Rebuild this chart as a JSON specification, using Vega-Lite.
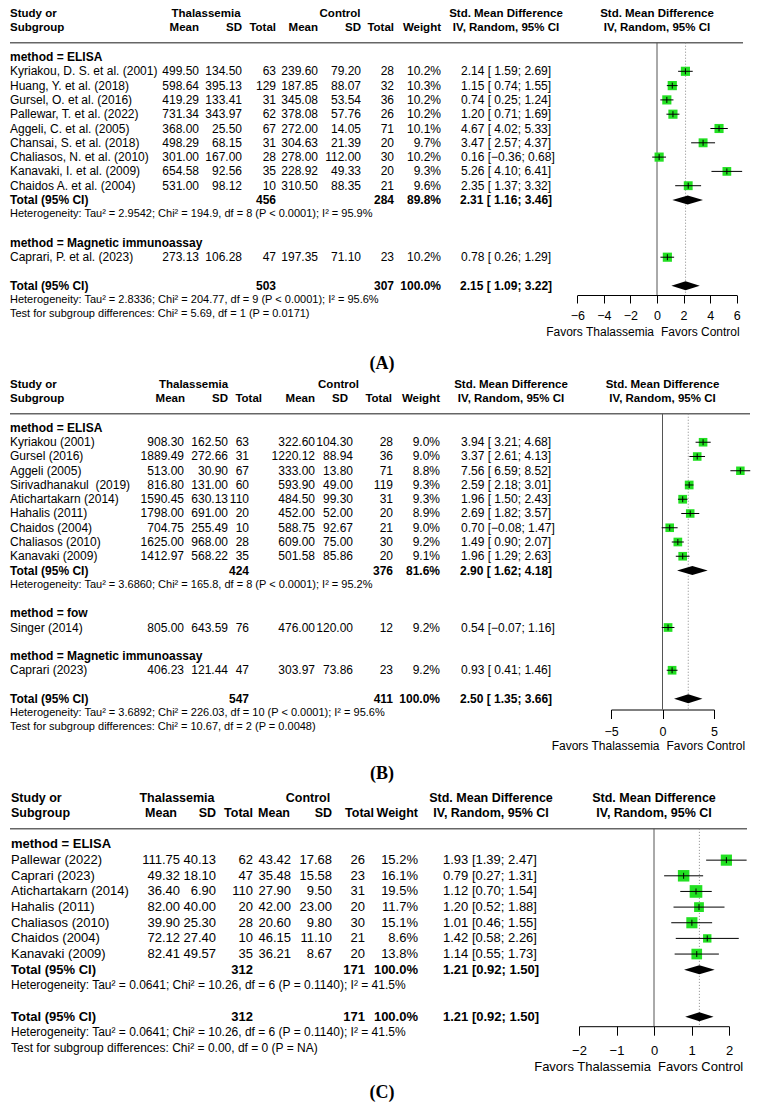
{
"$schema": "https://vega.github.io/schema/vega-lite/v6.json",
"padding": 0,
"bounds": "flush",
"spacing": 80,
"config": {
 "view": {"stroke": null},
 "text": {"font": "Liberation Sans", "baseline": "middle", "color": "black", "fontSize": 12},
 "axis": {"grid": false}
},
"datasets": {
 "one": [{"k": 1}],
 "aS": [
  {"row":1,"study":"Kyriakou, D. S. et al. (2001)","tm":499.50,"tsd":134.50,"tn":63,"cm":239.60,"csd":79.20,"cn":28,"w":0.102,"est":2.14,"lo":1.59,"hi":2.69,"ci":"2.14 [ 1.59; 2.69]"},
  {"row":2,"study":"Huang, Y. et al. (2018)","tm":598.64,"tsd":395.13,"tn":129,"cm":187.85,"csd":88.07,"cn":32,"w":0.103,"est":1.15,"lo":0.74,"hi":1.55,"ci":"1.15 [ 0.74; 1.55]"},
  {"row":3,"study":"Gursel, O. et al. (2016)","tm":419.29,"tsd":133.41,"tn":31,"cm":345.08,"csd":53.54,"cn":36,"w":0.102,"est":0.74,"lo":0.25,"hi":1.24,"ci":"0.74 [ 0.25; 1.24]"},
  {"row":4,"study":"Pallewar, T. et al. (2022)","tm":731.34,"tsd":343.97,"tn":62,"cm":378.08,"csd":57.76,"cn":26,"w":0.102,"est":1.20,"lo":0.71,"hi":1.69,"ci":"1.20 [ 0.71; 1.69]"},
  {"row":5,"study":"Aggeli, C. et al. (2005)","tm":368.00,"tsd":25.50,"tn":67,"cm":272.00,"csd":14.05,"cn":71,"w":0.101,"est":4.67,"lo":4.02,"hi":5.33,"ci":"4.67 [ 4.02; 5.33]"},
  {"row":6,"study":"Chansai, S. et al. (2018)","tm":498.29,"tsd":68.15,"tn":31,"cm":304.63,"csd":21.39,"cn":20,"w":0.097,"est":3.47,"lo":2.57,"hi":4.37,"ci":"3.47 [ 2.57; 4.37]"},
  {"row":7,"study":"Chaliasos, N. et al. (2010)","tm":301.00,"tsd":167.00,"tn":28,"cm":278.00,"csd":112.00,"cn":30,"w":0.102,"est":0.16,"lo":-0.36,"hi":0.68,"ci":"0.16 [−0.36; 0.68]"},
  {"row":8,"study":"Kanavaki, I. et al. (2009)","tm":654.58,"tsd":92.56,"tn":35,"cm":228.92,"csd":49.33,"cn":20,"w":0.093,"est":5.26,"lo":4.10,"hi":6.41,"ci":"5.26 [ 4.10; 6.41]"},
  {"row":9,"study":"Chaidos A. et al. (2004)","tm":531.00,"tsd":98.12,"tn":10,"cm":310.50,"csd":88.35,"cn":21,"w":0.096,"est":2.35,"lo":1.37,"hi":3.32,"ci":"2.35 [ 1.37; 3.32]"},
  {"row":14,"study":"Caprari, P. et al. (2023)","tm":273.13,"tsd":106.28,"tn":47,"cm":197.35,"csd":71.10,"cn":23,"w":0.102,"est":0.78,"lo":0.26,"hi":1.29,"ci":"0.78 [ 0.26; 1.29]"}
 ],
 "aT": [
  {"row":10,"kind":"subtotal","label":"Total (95% CI)","tn":456,"cn":284,"w":0.898,"est":2.31,"lo":1.16,"hi":3.46,"ci":"2.31 [ 1.16; 3.46]"},
  {"row":16,"kind":"overall","label":"Total (95% CI)","tn":503,"cn":307,"w":1,"est":2.15,"lo":1.09,"hi":3.22,"ci":"2.15 [ 1.09; 3.22]"}
 ],
 "aL": [
  {"row":0,"kind":"group","text":"method = ELISA"},
  {"row":11,"kind":"het","text":"Heterogeneity: Tau² = 2.9542; Chi² = 194.9, df = 8 (P < 0.0001); I² = 95.9%"},
  {"row":13,"kind":"group","text":"method = Magnetic immunoassay"},
  {"row":17,"kind":"het","text":"Heterogeneity: Tau² = 2.8336; Chi² = 204.77, df = 9 (P < 0.0001); I² = 95.6%"},
  {"row":18,"kind":"het","text":"Test for subgroup differences: Chi² = 5.69, df = 1 (P = 0.0171)"}
 ],
 "bS": [
  {"row":1,"study":"Kyriakou (2001)","tm":908.30,"tsd":162.50,"tn":63,"cm":322.60,"csd":104.30,"cn":28,"w":0.090,"est":3.94,"lo":3.21,"hi":4.68,"ci":"3.94 [ 3.21; 4.68]"},
  {"row":2,"study":"Gursel (2016)","tm":1889.49,"tsd":272.66,"tn":31,"cm":1220.12,"csd":88.94,"cn":36,"w":0.090,"est":3.37,"lo":2.61,"hi":4.13,"ci":"3.37 [ 2.61; 4.13]"},
  {"row":3,"study":"Aggeli (2005)","tm":513.00,"tsd":30.90,"tn":67,"cm":333.00,"csd":13.80,"cn":71,"w":0.088,"est":7.56,"lo":6.59,"hi":8.52,"ci":"7.56 [ 6.59; 8.52]"},
  {"row":4,"study":"Sirivadhanakul\u00a0 (2019)","tm":816.80,"tsd":131.00,"tn":60,"cm":593.90,"csd":49.00,"cn":119,"w":0.093,"est":2.59,"lo":2.18,"hi":3.01,"ci":"2.59 [ 2.18; 3.01]"},
  {"row":5,"study":"Atichartakarn (2014)","tm":1590.45,"tsd":630.13,"tn":110,"cm":484.50,"csd":99.30,"cn":31,"w":0.093,"est":1.96,"lo":1.50,"hi":2.43,"ci":"1.96 [ 1.50; 2.43]"},
  {"row":6,"study":"Hahalis (2011)","tm":1798.00,"tsd":691.00,"tn":20,"cm":452.00,"csd":52.00,"cn":20,"w":0.089,"est":2.69,"lo":1.82,"hi":3.57,"ci":"2.69 [ 1.82; 3.57]"},
  {"row":7,"study":"Chaidos (2004)","tm":704.75,"tsd":255.49,"tn":10,"cm":588.75,"csd":92.67,"cn":21,"w":0.090,"est":0.70,"lo":-0.08,"hi":1.47,"ci":"0.70 [−0.08; 1.47]"},
  {"row":8,"study":"Chaliasos (2010)","tm":1625.00,"tsd":968.00,"tn":28,"cm":609.00,"csd":75.00,"cn":30,"w":0.092,"est":1.49,"lo":0.90,"hi":2.07,"ci":"1.49 [ 0.90; 2.07]"},
  {"row":9,"study":"Kanavaki (2009)","tm":1412.97,"tsd":568.22,"tn":35,"cm":501.58,"csd":85.86,"cn":20,"w":0.091,"est":1.96,"lo":1.29,"hi":2.63,"ci":"1.96 [ 1.29; 2.63]"},
  {"row":14,"study":"Singer (2014)","tm":805.00,"tsd":643.59,"tn":76,"cm":476.00,"csd":120.00,"cn":12,"w":0.092,"est":0.54,"lo":-0.07,"hi":1.16,"ci":"0.54 [−0.07; 1.16]"},
  {"row":17,"study":"Caprari (2023)","tm":406.23,"tsd":121.44,"tn":47,"cm":303.97,"csd":73.86,"cn":23,"w":0.092,"est":0.93,"lo":0.41,"hi":1.46,"ci":"0.93 [ 0.41; 1.46]"}
 ],
 "bT": [
  {"row":10,"kind":"subtotal","label":"Total (95% CI)","tn":424,"cn":376,"w":0.816,"est":2.90,"lo":1.62,"hi":4.18,"ci":"2.90 [ 1.62; 4.18]"},
  {"row":19,"kind":"overall","label":"Total (95% CI)","tn":547,"cn":411,"w":1,"est":2.50,"lo":1.35,"hi":3.66,"ci":"2.50 [ 1.35; 3.66]"}
 ],
 "bL": [
  {"row":0,"kind":"group","text":"method = ELISA"},
  {"row":11,"kind":"het","text":"Heterogeneity: Tau² = 3.6860; Chi² = 165.8, df = 8 (P < 0.0001); I² = 95.2%"},
  {"row":13,"kind":"group","text":"method = fow"},
  {"row":16,"kind":"group","text":"method = Magnetic immunoassay"},
  {"row":20,"kind":"het","text":"Heterogeneity: Tau² = 3.6892; Chi² = 226.03, df = 10 (P < 0.0001); I² = 95.6%"},
  {"row":21,"kind":"het","text":"Test for subgroup differences: Chi² = 10.67, df = 2 (P = 0.0048)"}
 ],
 "cS": [
  {"row":1,"study":"Pallewar (2022)","tm":111.75,"tsd":40.13,"tn":62,"cm":43.42,"csd":17.68,"cn":26,"w":0.152,"est":1.93,"lo":1.39,"hi":2.47,"ci":"1.93 [1.39; 2.47]"},
  {"row":2,"study":"Caprari (2023)","tm":49.32,"tsd":18.10,"tn":47,"cm":35.48,"csd":15.58,"cn":23,"w":0.161,"est":0.79,"lo":0.27,"hi":1.31,"ci":"0.79 [0.27; 1.31]"},
  {"row":3,"study":"Atichartakarn (2014)","tm":36.40,"tsd":6.90,"tn":110,"cm":27.90,"csd":9.50,"cn":31,"w":0.195,"est":1.12,"lo":0.70,"hi":1.54,"ci":"1.12 [0.70; 1.54]"},
  {"row":4,"study":"Hahalis (2011)","tm":82.00,"tsd":40.00,"tn":20,"cm":42.00,"csd":23.00,"cn":20,"w":0.117,"est":1.20,"lo":0.52,"hi":1.88,"ci":"1.20 [0.52; 1.88]"},
  {"row":5,"study":"Chaliasos (2010)","tm":39.90,"tsd":25.30,"tn":28,"cm":20.60,"csd":9.80,"cn":30,"w":0.151,"est":1.01,"lo":0.46,"hi":1.55,"ci":"1.01 [0.46; 1.55]"},
  {"row":6,"study":"Chaidos (2004)","tm":72.12,"tsd":27.40,"tn":10,"cm":46.15,"csd":11.10,"cn":21,"w":0.086,"est":1.42,"lo":0.58,"hi":2.26,"ci":"1.42 [0.58; 2.26]"},
  {"row":7,"study":"Kanavaki (2009)","tm":82.41,"tsd":49.57,"tn":35,"cm":36.21,"csd":8.67,"cn":20,"w":0.138,"est":1.14,"lo":0.55,"hi":1.73,"ci":"1.14 [0.55; 1.73]"}
 ],
 "cT": [
  {"row":8,"kind":"subtotal","label":"Total (95% CI)","tn":312,"cn":171,"w":1,"est":1.21,"lo":0.92,"hi":1.50,"ci":"1.21 [0.92; 1.50]"},
  {"row":11,"kind":"overall","label":"Total (95% CI)","tn":312,"cn":171,"w":1,"est":1.21,"lo":0.92,"hi":1.50,"ci":"1.21 [0.92; 1.50]"}
 ],
 "cL": [
  {"row":0,"kind":"group","text":"method = ELISA"},
  {"row":9,"kind":"het","text":"Heterogeneity: Tau² = 0.0641; Chi² = 10.26, df = 6 (P = 0.1140); I² = 41.5%"},
  {"row":12,"kind":"het","text":"Heterogeneity: Tau² = 0.0641; Chi² = 10.26, df = 6 (P = 0.1140); I² = 41.5%"},
  {"row":13,"kind":"het","text":"Test for subgroup differences: Chi² = 0.00, df = 0 (P = NA)"}
 ]
},
"vconcat": [
{
 "width": 760, "height": 295,
 "resolve": {"scale": {"x": "independent"}},
 "layer": [
  {"data":{"name":"one"},"mark":{"type":"rule","color":"#666","strokeWidth":1.5},"encoding":{"x":{"datum":10,"type":"quantitative","scale":{"domain":[0,760],"nice":false,"zero":false},"axis":null},"x2":{"datum":743},"y":{"datum":-1,"type":"quantitative","scale":{"domain":[-3.986,16.643],"reverse":true,"nice":false,"zero":false},"axis":null}}},
  {"data":{"name":"one"},"mark":{"type":"text","align":"left","fontWeight":"bold","fontSize":11.5,"lineHeight":14.3},"encoding":{"x":{"datum":10,"type":"quantitative","scale":{"domain":[0,760],"nice":false,"zero":false},"axis":null},"y":{"datum":-3,"type":"quantitative","scale":{"domain":[-3.986,16.643],"reverse":true,"nice":false,"zero":false},"axis":null},"text":{"value":["Study or","Subgroup"]}}},
  {"data":{"name":"one"},"mark":{"type":"text","align":"center","fontWeight":"bold","fontSize":11.5},"encoding":{"x":{"datum":206,"type":"quantitative","scale":{"domain":[0,760],"nice":false,"zero":false},"axis":null},"y":{"datum":-3,"type":"quantitative","scale":{"domain":[-3.986,16.643],"reverse":true,"nice":false,"zero":false},"axis":null},"text":{"value":"Thalassemia"}}},
  {"data":{"name":"one"},"mark":{"type":"text","align":"center","fontWeight":"bold","fontSize":11.5},"encoding":{"x":{"datum":340,"type":"quantitative","scale":{"domain":[0,760],"nice":false,"zero":false},"axis":null},"y":{"datum":-3,"type":"quantitative","scale":{"domain":[-3.986,16.643],"reverse":true,"nice":false,"zero":false},"axis":null},"text":{"value":"Control"}}},
  {"data":{"name":"one"},"mark":{"type":"text","align":"right","fontWeight":"bold","fontSize":11.5},"encoding":{"x":{"datum":199,"type":"quantitative","scale":{"domain":[0,760],"nice":false,"zero":false},"axis":null},"y":{"datum":-2,"type":"quantitative","scale":{"domain":[-3.986,16.643],"reverse":true,"nice":false,"zero":false},"axis":null},"text":{"value":"Mean"}}},
  {"data":{"name":"one"},"mark":{"type":"text","align":"right","fontWeight":"bold","fontSize":11.5},"encoding":{"x":{"datum":242,"type":"quantitative","scale":{"domain":[0,760],"nice":false,"zero":false},"axis":null},"y":{"datum":-2,"type":"quantitative","scale":{"domain":[-3.986,16.643],"reverse":true,"nice":false,"zero":false},"axis":null},"text":{"value":"SD"}}},
  {"data":{"name":"one"},"mark":{"type":"text","align":"right","fontWeight":"bold","fontSize":11.5},"encoding":{"x":{"datum":276,"type":"quantitative","scale":{"domain":[0,760],"nice":false,"zero":false},"axis":null},"y":{"datum":-2,"type":"quantitative","scale":{"domain":[-3.986,16.643],"reverse":true,"nice":false,"zero":false},"axis":null},"text":{"value":"Total"}}},
  {"data":{"name":"one"},"mark":{"type":"text","align":"right","fontWeight":"bold","fontSize":11.5},"encoding":{"x":{"datum":318,"type":"quantitative","scale":{"domain":[0,760],"nice":false,"zero":false},"axis":null},"y":{"datum":-2,"type":"quantitative","scale":{"domain":[-3.986,16.643],"reverse":true,"nice":false,"zero":false},"axis":null},"text":{"value":"Mean"}}},
  {"data":{"name":"one"},"mark":{"type":"text","align":"right","fontWeight":"bold","fontSize":11.5},"encoding":{"x":{"datum":361,"type":"quantitative","scale":{"domain":[0,760],"nice":false,"zero":false},"axis":null},"y":{"datum":-2,"type":"quantitative","scale":{"domain":[-3.986,16.643],"reverse":true,"nice":false,"zero":false},"axis":null},"text":{"value":"SD"}}},
  {"data":{"name":"one"},"mark":{"type":"text","align":"right","fontWeight":"bold","fontSize":11.5},"encoding":{"x":{"datum":394,"type":"quantitative","scale":{"domain":[0,760],"nice":false,"zero":false},"axis":null},"y":{"datum":-2,"type":"quantitative","scale":{"domain":[-3.986,16.643],"reverse":true,"nice":false,"zero":false},"axis":null},"text":{"value":"Total"}}},
  {"data":{"name":"one"},"mark":{"type":"text","align":"right","fontWeight":"bold","fontSize":11.5},"encoding":{"x":{"datum":441,"type":"quantitative","scale":{"domain":[0,760],"nice":false,"zero":false},"axis":null},"y":{"datum":-2,"type":"quantitative","scale":{"domain":[-3.986,16.643],"reverse":true,"nice":false,"zero":false},"axis":null},"text":{"value":"Weight"}}},
  {"data":{"name":"one"},"mark":{"type":"text","align":"center","fontWeight":"bold","fontSize":11.5,"lineHeight":14.3},"encoding":{"x":{"datum":506,"type":"quantitative","scale":{"domain":[0,760],"nice":false,"zero":false},"axis":null},"y":{"datum":-3,"type":"quantitative","scale":{"domain":[-3.986,16.643],"reverse":true,"nice":false,"zero":false},"axis":null},"text":{"value":["Std. Mean Difference","IV, Random, 95% CI"]}}},
  {"data":{"name":"aS"},"mark":{"type":"text","align":"left"},"encoding":{"x":{"datum":10,"type":"quantitative","scale":{"domain":[0,760],"nice":false,"zero":false},"axis":null},"y":{"field":"row","type":"quantitative","scale":{"domain":[-3.986,16.643],"reverse":true,"nice":false,"zero":false},"axis":null},"text":{"field":"study","type":"nominal"}}},
  {"data":{"name":"aL"},"transform":[{"filter":"datum.kind == 'group'"}],"mark":{"type":"text","align":"left","fontWeight":"bold"},"encoding":{"x":{"datum":10,"type":"quantitative","scale":{"domain":[0,760],"nice":false,"zero":false},"axis":null},"y":{"field":"row","type":"quantitative","scale":{"domain":[-3.986,16.643],"reverse":true,"nice":false,"zero":false},"axis":null},"text":{"field":"text","type":"nominal"}}},
  {"data":{"name":"aL"},"transform":[{"filter":"datum.kind == 'het'"}],"mark":{"type":"text","align":"left","fontSize":11},"encoding":{"x":{"datum":10,"type":"quantitative","scale":{"domain":[0,760],"nice":false,"zero":false},"axis":null},"y":{"field":"row","type":"quantitative","scale":{"domain":[-3.986,16.643],"reverse":true,"nice":false,"zero":false},"axis":null},"text":{"field":"text","type":"nominal"}}},
  {"data":{"name":"aS"},"mark":{"type":"text","align":"right"},"encoding":{"x":{"datum":199,"type":"quantitative","scale":{"domain":[0,760],"nice":false,"zero":false},"axis":null},"y":{"field":"row","type":"quantitative","scale":{"domain":[-3.986,16.643],"reverse":true,"nice":false,"zero":false},"axis":null},"text":{"field":"tm","type":"quantitative","format":".2f"}}},
  {"data":{"name":"aS"},"mark":{"type":"text","align":"right"},"encoding":{"x":{"datum":242,"type":"quantitative","scale":{"domain":[0,760],"nice":false,"zero":false},"axis":null},"y":{"field":"row","type":"quantitative","scale":{"domain":[-3.986,16.643],"reverse":true,"nice":false,"zero":false},"axis":null},"text":{"field":"tsd","type":"quantitative","format":".2f"}}},
  {"data":{"name":"aS"},"mark":{"type":"text","align":"right"},"encoding":{"x":{"datum":276,"type":"quantitative","scale":{"domain":[0,760],"nice":false,"zero":false},"axis":null},"y":{"field":"row","type":"quantitative","scale":{"domain":[-3.986,16.643],"reverse":true,"nice":false,"zero":false},"axis":null},"text":{"field":"tn","type":"quantitative","format":"d"}}},
  {"data":{"name":"aS"},"mark":{"type":"text","align":"right"},"encoding":{"x":{"datum":318,"type":"quantitative","scale":{"domain":[0,760],"nice":false,"zero":false},"axis":null},"y":{"field":"row","type":"quantitative","scale":{"domain":[-3.986,16.643],"reverse":true,"nice":false,"zero":false},"axis":null},"text":{"field":"cm","type":"quantitative","format":".2f"}}},
  {"data":{"name":"aS"},"mark":{"type":"text","align":"right"},"encoding":{"x":{"datum":361,"type":"quantitative","scale":{"domain":[0,760],"nice":false,"zero":false},"axis":null},"y":{"field":"row","type":"quantitative","scale":{"domain":[-3.986,16.643],"reverse":true,"nice":false,"zero":false},"axis":null},"text":{"field":"csd","type":"quantitative","format":".2f"}}},
  {"data":{"name":"aS"},"mark":{"type":"text","align":"right"},"encoding":{"x":{"datum":394,"type":"quantitative","scale":{"domain":[0,760],"nice":false,"zero":false},"axis":null},"y":{"field":"row","type":"quantitative","scale":{"domain":[-3.986,16.643],"reverse":true,"nice":false,"zero":false},"axis":null},"text":{"field":"cn","type":"quantitative","format":"d"}}},
  {"data":{"name":"aS"},"mark":{"type":"text","align":"right"},"encoding":{"x":{"datum":441,"type":"quantitative","scale":{"domain":[0,760],"nice":false,"zero":false},"axis":null},"y":{"field":"row","type":"quantitative","scale":{"domain":[-3.986,16.643],"reverse":true,"nice":false,"zero":false},"axis":null},"text":{"field":"w","type":"quantitative","format":".1%"}}},
  {"data":{"name":"aS"},"mark":{"type":"text","align":"left"},"encoding":{"x":{"datum":461,"type":"quantitative","scale":{"domain":[0,760],"nice":false,"zero":false},"axis":null},"y":{"field":"row","type":"quantitative","scale":{"domain":[-3.986,16.643],"reverse":true,"nice":false,"zero":false},"axis":null},"text":{"field":"ci","type":"nominal"}}},
  {"data":{"name":"aT"},"mark":{"type":"text","align":"left","fontWeight":"bold"},"encoding":{"x":{"datum":10,"type":"quantitative","scale":{"domain":[0,760],"nice":false,"zero":false},"axis":null},"y":{"field":"row","type":"quantitative","scale":{"domain":[-3.986,16.643],"reverse":true,"nice":false,"zero":false},"axis":null},"text":{"field":"label","type":"nominal"}}},
  {"data":{"name":"aT"},"mark":{"type":"text","align":"right","fontWeight":"bold"},"encoding":{"x":{"datum":276,"type":"quantitative","scale":{"domain":[0,760],"nice":false,"zero":false},"axis":null},"y":{"field":"row","type":"quantitative","scale":{"domain":[-3.986,16.643],"reverse":true,"nice":false,"zero":false},"axis":null},"text":{"field":"tn","type":"quantitative","format":"d"}}},
  {"data":{"name":"aT"},"mark":{"type":"text","align":"right","fontWeight":"bold"},"encoding":{"x":{"datum":394,"type":"quantitative","scale":{"domain":[0,760],"nice":false,"zero":false},"axis":null},"y":{"field":"row","type":"quantitative","scale":{"domain":[-3.986,16.643],"reverse":true,"nice":false,"zero":false},"axis":null},"text":{"field":"cn","type":"quantitative","format":"d"}}},
  {"data":{"name":"aT"},"mark":{"type":"text","align":"right","fontWeight":"bold"},"encoding":{"x":{"datum":441,"type":"quantitative","scale":{"domain":[0,760],"nice":false,"zero":false},"axis":null},"y":{"field":"row","type":"quantitative","scale":{"domain":[-3.986,16.643],"reverse":true,"nice":false,"zero":false},"axis":null},"text":{"field":"w","type":"quantitative","format":".1%"}}},
  {"data":{"name":"aT"},"mark":{"type":"text","align":"left","fontWeight":"bold"},"encoding":{"x":{"datum":460,"type":"quantitative","scale":{"domain":[0,760],"nice":false,"zero":false},"axis":null},"y":{"field":"row","type":"quantitative","scale":{"domain":[-3.986,16.643],"reverse":true,"nice":false,"zero":false},"axis":null},"text":{"field":"ci","type":"nominal"}}},
  {"data":{"name":"one"},"mark":{"type":"text","align":"center","font":"Liberation Serif","fontSize":18,"fontWeight":"bold"},"encoding":{"x":{"datum":382,"type":"quantitative","scale":{"domain":[0,760],"nice":false,"zero":false},"axis":null},"y":{"datum":21.5,"type":"quantitative","scale":{"domain":[-3.986,16.643],"reverse":true,"nice":false,"zero":false},"axis":null},"text":{"value":"(A)"}}},
  {"data":{"name":"one"},"mark":{"type":"rule","color":"#555","strokeWidth":1},"encoding":{"x":{"datum":0,"type":"quantitative","scale":{"domain":[-6,6],"range":[577.3,736.7],"nice":false,"zero":false},"axis":null},"y":{"datum":-1,"type":"quantitative","scale":{"domain":[-3.986,16.643],"reverse":true,"nice":false,"zero":false},"axis":null},"y2":{"datum":16.643}}},
  {"data":{"name":"aT"},"transform":[{"filter":"datum.kind == 'overall'"}],"mark":{"type":"rule","color":"#888","strokeWidth":1,"strokeDash":[1,2]},"encoding":{"x":{"field":"est","type":"quantitative","scale":{"domain":[-6,6],"range":[577.3,736.7],"nice":false,"zero":false},"axis":null},"y":{"datum":-1,"type":"quantitative","scale":{"domain":[-3.986,16.643],"reverse":true,"nice":false,"zero":false},"axis":null},"y2":{"datum":16.643}}},
  {"data":{"name":"aS"},"mark":{"type":"point","shape":"square","filled":true,"color":"#22e022","opacity":1},"encoding":{"x":{"field":"est","type":"quantitative","scale":{"domain":[-6,6],"range":[577.3,736.7],"nice":false,"zero":false},"axis":null},"y":{"field":"row","type":"quantitative","scale":{"domain":[-3.986,16.643],"reverse":true,"nice":false,"zero":false},"axis":null},"size":{"field":"w","type":"quantitative","scale":{"domain":[0,0.103],"range":[0,160],"zero":true},"legend":null}}},
  {"data":{"name":"aS"},"mark":{"type":"rule","color":"black","strokeWidth":1},"encoding":{"x":{"field":"lo","type":"quantitative","scale":{"domain":[-6,6],"range":[577.3,736.7],"nice":false,"zero":false},"axis":{"orient":"bottom","values":[-6,-4,-2,0,2,4,6],"title":null,"grid":false,"domainColor":"black","domainWidth":1,"tickColor":"black","tickWidth":1,"tickSize":8,"labelFont":"Liberation Sans","labelFontSize":12.5,"labelColor":"black","labelPadding":6,"labelFlush":false,"labelOverlap":false,"labelBound":false}},"x2":{"field":"hi"},"y":{"field":"row","type":"quantitative","scale":{"domain":[-3.986,16.643],"reverse":true,"nice":false,"zero":false},"axis":null}}},
  {"data":{"name":"aS"},"mark":{"type":"point","shape":"M0,-1L0,1","filled":false,"color":"black","strokeWidth":1,"opacity":1,"size":36},"encoding":{"x":{"field":"est","type":"quantitative","scale":{"domain":[-6,6],"range":[577.3,736.7],"nice":false,"zero":false},"axis":null},"y":{"field":"row","type":"quantitative","scale":{"domain":[-3.986,16.643],"reverse":true,"nice":false,"zero":false},"axis":null}}},
  {"data":{"name":"aT"},"mark":{"type":"point","filled":true,"color":"black","opacity":1,"size":4},"encoding":{"x":{"field":"est","type":"quantitative","scale":{"domain":[-6,6],"range":[577.3,736.7],"nice":false,"zero":false},"axis":null},"y":{"field":"row","type":"quantitative","scale":{"domain":[-3.986,16.643],"reverse":true,"nice":false,"zero":false},"axis":null},"shape":{"field":"kind","type":"nominal","scale":{"domain":["subtotal","overall"],"range":["M-15.33,0L0,-4.5L15.33,0L0,4.5Z","M-14.2,0L0,-4.5L14.2,0L0,4.5Z"]},"legend":null}}},
  {"data":{"name":"one"},"mark":{"type":"text","align":"center","fontWeight":"bold","fontSize":11.5,"lineHeight":14.3},"encoding":{"x":{"datum":0,"type":"quantitative","scale":{"domain":[-6,6],"range":[577.3,736.7],"nice":false,"zero":false},"axis":null},"y":{"datum":-3,"type":"quantitative","scale":{"domain":[-3.986,16.643],"reverse":true,"nice":false,"zero":false},"axis":null},"text":{"value":["Std. Mean Difference","IV, Random, 95% CI"]}}},
  {"data":{"name":"one"},"mark":{"type":"text","align":"right","dx":-3},"encoding":{"x":{"datum":0,"type":"quantitative","scale":{"domain":[-6,6],"range":[577.3,736.7],"nice":false,"zero":false},"axis":null},"y":{"datum":19.23,"type":"quantitative","scale":{"domain":[-3.986,16.643],"reverse":true,"nice":false,"zero":false},"axis":null},"text":{"value":"Favors Thalassemia"}}},
  {"data":{"name":"one"},"mark":{"type":"text","align":"left","dx":4},"encoding":{"x":{"datum":0,"type":"quantitative","scale":{"domain":[-6,6],"range":[577.3,736.7],"nice":false,"zero":false},"axis":null},"y":{"datum":19.23,"type":"quantitative","scale":{"domain":[-3.986,16.643],"reverse":true,"nice":false,"zero":false},"axis":null},"text":{"value":"Favors Control"}}}
 ]
},
{
 "width": 760, "height": 334.5,
 "resolve": {"scale": {"x": "independent"}},
 "layer": [
  {"data":{"name":"one"},"mark":{"type":"rule","color":"#666","strokeWidth":1.5},"encoding":{"x":{"datum":10,"type":"quantitative","scale":{"domain":[0,760],"nice":false,"zero":false},"axis":null},"x2":{"datum":750},"y":{"datum":-1,"type":"quantitative","scale":{"domain":[-3.719,19.754],"reverse":true,"nice":false,"zero":false},"axis":null}}},
  {"data":{"name":"one"},"mark":{"type":"text","align":"left","fontWeight":"bold","fontSize":11.5,"lineHeight":14.25},"encoding":{"x":{"datum":10,"type":"quantitative","scale":{"domain":[0,760],"nice":false,"zero":false},"axis":null},"y":{"datum":-3,"type":"quantitative","scale":{"domain":[-3.719,19.754],"reverse":true,"nice":false,"zero":false},"axis":null},"text":{"value":["Study or","Subgroup"]}}},
  {"data":{"name":"one"},"mark":{"type":"text","align":"center","fontWeight":"bold","fontSize":11.5},"encoding":{"x":{"datum":193.5,"type":"quantitative","scale":{"domain":[0,760],"nice":false,"zero":false},"axis":null},"y":{"datum":-3,"type":"quantitative","scale":{"domain":[-3.719,19.754],"reverse":true,"nice":false,"zero":false},"axis":null},"text":{"value":"Thalassemia"}}},
  {"data":{"name":"one"},"mark":{"type":"text","align":"center","fontWeight":"bold","fontSize":11.5},"encoding":{"x":{"datum":338.5,"type":"quantitative","scale":{"domain":[0,760],"nice":false,"zero":false},"axis":null},"y":{"datum":-3,"type":"quantitative","scale":{"domain":[-3.719,19.754],"reverse":true,"nice":false,"zero":false},"axis":null},"text":{"value":"Control"}}},
  {"data":{"name":"one"},"mark":{"type":"text","align":"right","fontWeight":"bold","fontSize":11.5},"encoding":{"x":{"datum":185,"type":"quantitative","scale":{"domain":[0,760],"nice":false,"zero":false},"axis":null},"y":{"datum":-2,"type":"quantitative","scale":{"domain":[-3.719,19.754],"reverse":true,"nice":false,"zero":false},"axis":null},"text":{"value":"Mean"}}},
  {"data":{"name":"one"},"mark":{"type":"text","align":"right","fontWeight":"bold","fontSize":11.5},"encoding":{"x":{"datum":228,"type":"quantitative","scale":{"domain":[0,760],"nice":false,"zero":false},"axis":null},"y":{"datum":-2,"type":"quantitative","scale":{"domain":[-3.719,19.754],"reverse":true,"nice":false,"zero":false},"axis":null},"text":{"value":"SD"}}},
  {"data":{"name":"one"},"mark":{"type":"text","align":"right","fontWeight":"bold","fontSize":11.5},"encoding":{"x":{"datum":262,"type":"quantitative","scale":{"domain":[0,760],"nice":false,"zero":false},"axis":null},"y":{"datum":-2,"type":"quantitative","scale":{"domain":[-3.719,19.754],"reverse":true,"nice":false,"zero":false},"axis":null},"text":{"value":"Total"}}},
  {"data":{"name":"one"},"mark":{"type":"text","align":"right","fontWeight":"bold","fontSize":11.5},"encoding":{"x":{"datum":315,"type":"quantitative","scale":{"domain":[0,760],"nice":false,"zero":false},"axis":null},"y":{"datum":-2,"type":"quantitative","scale":{"domain":[-3.719,19.754],"reverse":true,"nice":false,"zero":false},"axis":null},"text":{"value":"Mean"}}},
  {"data":{"name":"one"},"mark":{"type":"text","align":"right","fontWeight":"bold","fontSize":11.5},"encoding":{"x":{"datum":348,"type":"quantitative","scale":{"domain":[0,760],"nice":false,"zero":false},"axis":null},"y":{"datum":-2,"type":"quantitative","scale":{"domain":[-3.719,19.754],"reverse":true,"nice":false,"zero":false},"axis":null},"text":{"value":"SD"}}},
  {"data":{"name":"one"},"mark":{"type":"text","align":"right","fontWeight":"bold","fontSize":11.5},"encoding":{"x":{"datum":392,"type":"quantitative","scale":{"domain":[0,760],"nice":false,"zero":false},"axis":null},"y":{"datum":-2,"type":"quantitative","scale":{"domain":[-3.719,19.754],"reverse":true,"nice":false,"zero":false},"axis":null},"text":{"value":"Total"}}},
  {"data":{"name":"one"},"mark":{"type":"text","align":"right","fontWeight":"bold","fontSize":11.5},"encoding":{"x":{"datum":440,"type":"quantitative","scale":{"domain":[0,760],"nice":false,"zero":false},"axis":null},"y":{"datum":-2,"type":"quantitative","scale":{"domain":[-3.719,19.754],"reverse":true,"nice":false,"zero":false},"axis":null},"text":{"value":"Weight"}}},
  {"data":{"name":"one"},"mark":{"type":"text","align":"center","fontWeight":"bold","fontSize":11.5,"lineHeight":14.25},"encoding":{"x":{"datum":511,"type":"quantitative","scale":{"domain":[0,760],"nice":false,"zero":false},"axis":null},"y":{"datum":-3,"type":"quantitative","scale":{"domain":[-3.719,19.754],"reverse":true,"nice":false,"zero":false},"axis":null},"text":{"value":["Std. Mean Difference","IV, Random, 95% CI"]}}},
  {"data":{"name":"bS"},"mark":{"type":"text","align":"left"},"encoding":{"x":{"datum":10,"type":"quantitative","scale":{"domain":[0,760],"nice":false,"zero":false},"axis":null},"y":{"field":"row","type":"quantitative","scale":{"domain":[-3.719,19.754],"reverse":true,"nice":false,"zero":false},"axis":null},"text":{"field":"study","type":"nominal"}}},
  {"data":{"name":"bL"},"transform":[{"filter":"datum.kind == 'group'"}],"mark":{"type":"text","align":"left","fontWeight":"bold"},"encoding":{"x":{"datum":10,"type":"quantitative","scale":{"domain":[0,760],"nice":false,"zero":false},"axis":null},"y":{"field":"row","type":"quantitative","scale":{"domain":[-3.719,19.754],"reverse":true,"nice":false,"zero":false},"axis":null},"text":{"field":"text","type":"nominal"}}},
  {"data":{"name":"bL"},"transform":[{"filter":"datum.kind == 'het'"}],"mark":{"type":"text","align":"left","fontSize":11},"encoding":{"x":{"datum":10,"type":"quantitative","scale":{"domain":[0,760],"nice":false,"zero":false},"axis":null},"y":{"field":"row","type":"quantitative","scale":{"domain":[-3.719,19.754],"reverse":true,"nice":false,"zero":false},"axis":null},"text":{"field":"text","type":"nominal"}}},
  {"data":{"name":"bS"},"mark":{"type":"text","align":"right"},"encoding":{"x":{"datum":184,"type":"quantitative","scale":{"domain":[0,760],"nice":false,"zero":false},"axis":null},"y":{"field":"row","type":"quantitative","scale":{"domain":[-3.719,19.754],"reverse":true,"nice":false,"zero":false},"axis":null},"text":{"field":"tm","type":"quantitative","format":".2f"}}},
  {"data":{"name":"bS"},"mark":{"type":"text","align":"right"},"encoding":{"x":{"datum":228,"type":"quantitative","scale":{"domain":[0,760],"nice":false,"zero":false},"axis":null},"y":{"field":"row","type":"quantitative","scale":{"domain":[-3.719,19.754],"reverse":true,"nice":false,"zero":false},"axis":null},"text":{"field":"tsd","type":"quantitative","format":".2f"}}},
  {"data":{"name":"bS"},"mark":{"type":"text","align":"right"},"encoding":{"x":{"datum":249,"type":"quantitative","scale":{"domain":[0,760],"nice":false,"zero":false},"axis":null},"y":{"field":"row","type":"quantitative","scale":{"domain":[-3.719,19.754],"reverse":true,"nice":false,"zero":false},"axis":null},"text":{"field":"tn","type":"quantitative","format":"d"}}},
  {"data":{"name":"bS"},"mark":{"type":"text","align":"right"},"encoding":{"x":{"datum":315,"type":"quantitative","scale":{"domain":[0,760],"nice":false,"zero":false},"axis":null},"y":{"field":"row","type":"quantitative","scale":{"domain":[-3.719,19.754],"reverse":true,"nice":false,"zero":false},"axis":null},"text":{"field":"cm","type":"quantitative","format":".2f"}}},
  {"data":{"name":"bS"},"mark":{"type":"text","align":"right"},"encoding":{"x":{"datum":353,"type":"quantitative","scale":{"domain":[0,760],"nice":false,"zero":false},"axis":null},"y":{"field":"row","type":"quantitative","scale":{"domain":[-3.719,19.754],"reverse":true,"nice":false,"zero":false},"axis":null},"text":{"field":"csd","type":"quantitative","format":".2f"}}},
  {"data":{"name":"bS"},"mark":{"type":"text","align":"right"},"encoding":{"x":{"datum":393,"type":"quantitative","scale":{"domain":[0,760],"nice":false,"zero":false},"axis":null},"y":{"field":"row","type":"quantitative","scale":{"domain":[-3.719,19.754],"reverse":true,"nice":false,"zero":false},"axis":null},"text":{"field":"cn","type":"quantitative","format":"d"}}},
  {"data":{"name":"bS"},"mark":{"type":"text","align":"right"},"encoding":{"x":{"datum":440,"type":"quantitative","scale":{"domain":[0,760],"nice":false,"zero":false},"axis":null},"y":{"field":"row","type":"quantitative","scale":{"domain":[-3.719,19.754],"reverse":true,"nice":false,"zero":false},"axis":null},"text":{"field":"w","type":"quantitative","format":".1%"}}},
  {"data":{"name":"bS"},"mark":{"type":"text","align":"left"},"encoding":{"x":{"datum":461,"type":"quantitative","scale":{"domain":[0,760],"nice":false,"zero":false},"axis":null},"y":{"field":"row","type":"quantitative","scale":{"domain":[-3.719,19.754],"reverse":true,"nice":false,"zero":false},"axis":null},"text":{"field":"ci","type":"nominal"}}},
  {"data":{"name":"bT"},"mark":{"type":"text","align":"left","fontWeight":"bold"},"encoding":{"x":{"datum":10,"type":"quantitative","scale":{"domain":[0,760],"nice":false,"zero":false},"axis":null},"y":{"field":"row","type":"quantitative","scale":{"domain":[-3.719,19.754],"reverse":true,"nice":false,"zero":false},"axis":null},"text":{"field":"label","type":"nominal"}}},
  {"data":{"name":"bT"},"mark":{"type":"text","align":"right","fontWeight":"bold"},"encoding":{"x":{"datum":249,"type":"quantitative","scale":{"domain":[0,760],"nice":false,"zero":false},"axis":null},"y":{"field":"row","type":"quantitative","scale":{"domain":[-3.719,19.754],"reverse":true,"nice":false,"zero":false},"axis":null},"text":{"field":"tn","type":"quantitative","format":"d"}}},
  {"data":{"name":"bT"},"mark":{"type":"text","align":"right","fontWeight":"bold"},"encoding":{"x":{"datum":393,"type":"quantitative","scale":{"domain":[0,760],"nice":false,"zero":false},"axis":null},"y":{"field":"row","type":"quantitative","scale":{"domain":[-3.719,19.754],"reverse":true,"nice":false,"zero":false},"axis":null},"text":{"field":"cn","type":"quantitative","format":"d"}}},
  {"data":{"name":"bT"},"mark":{"type":"text","align":"right","fontWeight":"bold"},"encoding":{"x":{"datum":440,"type":"quantitative","scale":{"domain":[0,760],"nice":false,"zero":false},"axis":null},"y":{"field":"row","type":"quantitative","scale":{"domain":[-3.719,19.754],"reverse":true,"nice":false,"zero":false},"axis":null},"text":{"field":"w","type":"quantitative","format":".1%"}}},
  {"data":{"name":"bT"},"mark":{"type":"text","align":"left","fontWeight":"bold"},"encoding":{"x":{"datum":460,"type":"quantitative","scale":{"domain":[0,760],"nice":false,"zero":false},"axis":null},"y":{"field":"row","type":"quantitative","scale":{"domain":[-3.719,19.754],"reverse":true,"nice":false,"zero":false},"axis":null},"text":{"field":"ci","type":"nominal"}}},
  {"data":{"name":"one"},"mark":{"type":"text","align":"center","font":"Liberation Serif","fontSize":18,"fontWeight":"bold"},"encoding":{"x":{"datum":382,"type":"quantitative","scale":{"domain":[0,760],"nice":false,"zero":false},"axis":null},"y":{"datum":24.28,"type":"quantitative","scale":{"domain":[-3.719,19.754],"reverse":true,"nice":false,"zero":false},"axis":null},"text":{"value":"(B)"}}},
  {"data":{"name":"one"},"mark":{"type":"rule","color":"#555","strokeWidth":1},"encoding":{"x":{"datum":0,"type":"quantitative","scale":{"domain":[-5,5],"range":[611,714],"nice":false,"zero":false},"axis":null},"y":{"datum":-1,"type":"quantitative","scale":{"domain":[-3.719,19.754],"reverse":true,"nice":false,"zero":false},"axis":null},"y2":{"datum":19.754}}},
  {"data":{"name":"bT"},"transform":[{"filter":"datum.kind == 'overall'"}],"mark":{"type":"rule","color":"#888","strokeWidth":1,"strokeDash":[1,2]},"encoding":{"x":{"field":"est","type":"quantitative","scale":{"domain":[-5,5],"range":[611,714],"nice":false,"zero":false},"axis":null},"y":{"datum":-1,"type":"quantitative","scale":{"domain":[-3.719,19.754],"reverse":true,"nice":false,"zero":false},"axis":null},"y2":{"datum":19.754}}},
  {"data":{"name":"bS"},"mark":{"type":"point","shape":"square","filled":true,"color":"#22e022","opacity":1},"encoding":{"x":{"field":"est","type":"quantitative","scale":{"domain":[-5,5],"range":[611,714],"nice":false,"zero":false},"axis":null},"y":{"field":"row","type":"quantitative","scale":{"domain":[-3.719,19.754],"reverse":true,"nice":false,"zero":false},"axis":null},"size":{"field":"w","type":"quantitative","scale":{"domain":[0,0.093],"range":[0,160],"zero":true},"legend":null}}},
  {"data":{"name":"bS"},"mark":{"type":"rule","color":"black","strokeWidth":1},"encoding":{"x":{"field":"lo","type":"quantitative","scale":{"domain":[-5,5],"range":[611,714],"nice":false,"zero":false},"axis":{"orient":"bottom","values":[-5,0,5],"title":null,"grid":false,"domainColor":"black","domainWidth":1,"tickColor":"black","tickWidth":1,"tickSize":9,"labelFont":"Liberation Sans","labelFontSize":12.5,"labelColor":"black","labelPadding":7,"labelFlush":false,"labelOverlap":false,"labelBound":false}},"x2":{"field":"hi"},"y":{"field":"row","type":"quantitative","scale":{"domain":[-3.719,19.754],"reverse":true,"nice":false,"zero":false},"axis":null}}},
  {"data":{"name":"bS"},"mark":{"type":"point","shape":"M0,-1L0,1","filled":false,"color":"black","strokeWidth":1,"opacity":1,"size":36},"encoding":{"x":{"field":"est","type":"quantitative","scale":{"domain":[-5,5],"range":[611,714],"nice":false,"zero":false},"axis":null},"y":{"field":"row","type":"quantitative","scale":{"domain":[-3.719,19.754],"reverse":true,"nice":false,"zero":false},"axis":null}}},
  {"data":{"name":"bT"},"mark":{"type":"point","filled":true,"color":"black","opacity":1,"size":4},"encoding":{"x":{"field":"est","type":"quantitative","scale":{"domain":[-5,5],"range":[611,714],"nice":false,"zero":false},"axis":null},"y":{"field":"row","type":"quantitative","scale":{"domain":[-3.719,19.754],"reverse":true,"nice":false,"zero":false},"axis":null},"shape":{"field":"kind","type":"nominal","scale":{"domain":["subtotal","overall"],"range":["M-13.22,0L0,-4.5L13.22,0L0,4.5Z","M-11.93,0L0,-4.5L11.93,0L0,4.5Z"]},"legend":null}}},
  {"data":{"name":"one"},"mark":{"type":"text","align":"center","fontWeight":"bold","fontSize":11.5,"lineHeight":14.25},"encoding":{"x":{"datum":0,"type":"quantitative","scale":{"domain":[-5,5],"range":[611,714],"nice":false,"zero":false},"axis":null},"y":{"datum":-3,"type":"quantitative","scale":{"domain":[-3.719,19.754],"reverse":true,"nice":false,"zero":false},"axis":null},"text":{"value":["Std. Mean Difference","IV, Random, 95% CI"]}}},
  {"data":{"name":"one"},"mark":{"type":"text","align":"right","dx":-3},"encoding":{"x":{"datum":0,"type":"quantitative","scale":{"domain":[-5,5],"range":[611,714],"nice":false,"zero":false},"axis":null},"y":{"datum":22.32,"type":"quantitative","scale":{"domain":[-3.719,19.754],"reverse":true,"nice":false,"zero":false},"axis":null},"text":{"value":"Favors Thalassemia"}}},
  {"data":{"name":"one"},"mark":{"type":"text","align":"left","dx":4},"encoding":{"x":{"datum":0,"type":"quantitative","scale":{"domain":[-5,5],"range":[611,714],"nice":false,"zero":false},"axis":null},"y":{"datum":22.32,"type":"quantitative","scale":{"domain":[-3.719,19.754],"reverse":true,"nice":false,"zero":false},"axis":null},"text":{"value":"Favors Control"}}}
 ]
},
{
 "width": 760, "height": 236.2,
 "resolve": {"scale": {"x": "independent"}},
 "layer": [
  {"data":{"name":"one"},"mark":{"type":"rule","color":"#666","strokeWidth":1.5},"encoding":{"x":{"datum":10,"type":"quantitative","scale":{"domain":[0,760],"nice":false,"zero":false},"axis":null},"x2":{"datum":747},"y":{"datum":-1,"type":"quantitative","scale":{"domain":[-3.482,11.61],"reverse":true,"nice":false,"zero":false},"axis":null}}},
  {"data":{"name":"one"},"mark":{"type":"text","align":"left","fontWeight":"bold","fontSize":12.5,"lineHeight":15.65},"encoding":{"x":{"datum":11,"type":"quantitative","scale":{"domain":[0,760],"nice":false,"zero":false},"axis":null},"y":{"datum":-3,"type":"quantitative","scale":{"domain":[-3.482,11.61],"reverse":true,"nice":false,"zero":false},"axis":null},"text":{"value":["Study or","Subgroup"]}}},
  {"data":{"name":"one"},"mark":{"type":"text","align":"center","fontWeight":"bold","fontSize":12.5},"encoding":{"x":{"datum":177,"type":"quantitative","scale":{"domain":[0,760],"nice":false,"zero":false},"axis":null},"y":{"datum":-3,"type":"quantitative","scale":{"domain":[-3.482,11.61],"reverse":true,"nice":false,"zero":false},"axis":null},"text":{"value":"Thalassemia"}}},
  {"data":{"name":"one"},"mark":{"type":"text","align":"center","fontWeight":"bold","fontSize":12.5},"encoding":{"x":{"datum":308,"type":"quantitative","scale":{"domain":[0,760],"nice":false,"zero":false},"axis":null},"y":{"datum":-3,"type":"quantitative","scale":{"domain":[-3.482,11.61],"reverse":true,"nice":false,"zero":false},"axis":null},"text":{"value":"Control"}}},
  {"data":{"name":"one"},"mark":{"type":"text","align":"right","fontWeight":"bold","fontSize":12.5},"encoding":{"x":{"datum":177,"type":"quantitative","scale":{"domain":[0,760],"nice":false,"zero":false},"axis":null},"y":{"datum":-2,"type":"quantitative","scale":{"domain":[-3.482,11.61],"reverse":true,"nice":false,"zero":false},"axis":null},"text":{"value":"Mean"}}},
  {"data":{"name":"one"},"mark":{"type":"text","align":"right","fontWeight":"bold","fontSize":12.5},"encoding":{"x":{"datum":216,"type":"quantitative","scale":{"domain":[0,760],"nice":false,"zero":false},"axis":null},"y":{"datum":-2,"type":"quantitative","scale":{"domain":[-3.482,11.61],"reverse":true,"nice":false,"zero":false},"axis":null},"text":{"value":"SD"}}},
  {"data":{"name":"one"},"mark":{"type":"text","align":"right","fontWeight":"bold","fontSize":12.5},"encoding":{"x":{"datum":253,"type":"quantitative","scale":{"domain":[0,760],"nice":false,"zero":false},"axis":null},"y":{"datum":-2,"type":"quantitative","scale":{"domain":[-3.482,11.61],"reverse":true,"nice":false,"zero":false},"axis":null},"text":{"value":"Total"}}},
  {"data":{"name":"one"},"mark":{"type":"text","align":"right","fontWeight":"bold","fontSize":12.5},"encoding":{"x":{"datum":290,"type":"quantitative","scale":{"domain":[0,760],"nice":false,"zero":false},"axis":null},"y":{"datum":-2,"type":"quantitative","scale":{"domain":[-3.482,11.61],"reverse":true,"nice":false,"zero":false},"axis":null},"text":{"value":"Mean"}}},
  {"data":{"name":"one"},"mark":{"type":"text","align":"right","fontWeight":"bold","fontSize":12.5},"encoding":{"x":{"datum":332,"type":"quantitative","scale":{"domain":[0,760],"nice":false,"zero":false},"axis":null},"y":{"datum":-2,"type":"quantitative","scale":{"domain":[-3.482,11.61],"reverse":true,"nice":false,"zero":false},"axis":null},"text":{"value":"SD"}}},
  {"data":{"name":"one"},"mark":{"type":"text","align":"right","fontWeight":"bold","fontSize":12.5},"encoding":{"x":{"datum":374,"type":"quantitative","scale":{"domain":[0,760],"nice":false,"zero":false},"axis":null},"y":{"datum":-2,"type":"quantitative","scale":{"domain":[-3.482,11.61],"reverse":true,"nice":false,"zero":false},"axis":null},"text":{"value":"Total"}}},
  {"data":{"name":"one"},"mark":{"type":"text","align":"right","fontWeight":"bold","fontSize":12.5},"encoding":{"x":{"datum":418,"type":"quantitative","scale":{"domain":[0,760],"nice":false,"zero":false},"axis":null},"y":{"datum":-2,"type":"quantitative","scale":{"domain":[-3.482,11.61],"reverse":true,"nice":false,"zero":false},"axis":null},"text":{"value":"Weight"}}},
  {"data":{"name":"one"},"mark":{"type":"text","align":"center","fontWeight":"bold","fontSize":12.5,"lineHeight":15.65},"encoding":{"x":{"datum":491,"type":"quantitative","scale":{"domain":[0,760],"nice":false,"zero":false},"axis":null},"y":{"datum":-3,"type":"quantitative","scale":{"domain":[-3.482,11.61],"reverse":true,"nice":false,"zero":false},"axis":null},"text":{"value":["Std. Mean Difference","IV, Random, 95% CI"]}}},
  {"data":{"name":"cS"},"mark":{"type":"text","align":"left","fontSize":13},"encoding":{"x":{"datum":11,"type":"quantitative","scale":{"domain":[0,760],"nice":false,"zero":false},"axis":null},"y":{"field":"row","type":"quantitative","scale":{"domain":[-3.482,11.61],"reverse":true,"nice":false,"zero":false},"axis":null},"text":{"field":"study","type":"nominal"}}},
  {"data":{"name":"cL"},"transform":[{"filter":"datum.kind == 'group'"}],"mark":{"type":"text","align":"left","fontWeight":"bold","fontSize":13},"encoding":{"x":{"datum":11,"type":"quantitative","scale":{"domain":[0,760],"nice":false,"zero":false},"axis":null},"y":{"field":"row","type":"quantitative","scale":{"domain":[-3.482,11.61],"reverse":true,"nice":false,"zero":false},"axis":null},"text":{"field":"text","type":"nominal"}}},
  {"data":{"name":"cL"},"transform":[{"filter":"datum.kind == 'het'"}],"mark":{"type":"text","align":"left","fontSize":12},"encoding":{"x":{"datum":11,"type":"quantitative","scale":{"domain":[0,760],"nice":false,"zero":false},"axis":null},"y":{"field":"row","type":"quantitative","scale":{"domain":[-3.482,11.61],"reverse":true,"nice":false,"zero":false},"axis":null},"text":{"field":"text","type":"nominal"}}},
  {"data":{"name":"cS"},"mark":{"type":"text","align":"right","fontSize":13},"encoding":{"x":{"datum":180,"type":"quantitative","scale":{"domain":[0,760],"nice":false,"zero":false},"axis":null},"y":{"field":"row","type":"quantitative","scale":{"domain":[-3.482,11.61],"reverse":true,"nice":false,"zero":false},"axis":null},"text":{"field":"tm","type":"quantitative","format":".2f"}}},
  {"data":{"name":"cS"},"mark":{"type":"text","align":"right","fontSize":13},"encoding":{"x":{"datum":216,"type":"quantitative","scale":{"domain":[0,760],"nice":false,"zero":false},"axis":null},"y":{"field":"row","type":"quantitative","scale":{"domain":[-3.482,11.61],"reverse":true,"nice":false,"zero":false},"axis":null},"text":{"field":"tsd","type":"quantitative","format":".2f"}}},
  {"data":{"name":"cS"},"mark":{"type":"text","align":"right","fontSize":13},"encoding":{"x":{"datum":253,"type":"quantitative","scale":{"domain":[0,760],"nice":false,"zero":false},"axis":null},"y":{"field":"row","type":"quantitative","scale":{"domain":[-3.482,11.61],"reverse":true,"nice":false,"zero":false},"axis":null},"text":{"field":"tn","type":"quantitative","format":"d"}}},
  {"data":{"name":"cS"},"mark":{"type":"text","align":"right","fontSize":13},"encoding":{"x":{"datum":291,"type":"quantitative","scale":{"domain":[0,760],"nice":false,"zero":false},"axis":null},"y":{"field":"row","type":"quantitative","scale":{"domain":[-3.482,11.61],"reverse":true,"nice":false,"zero":false},"axis":null},"text":{"field":"cm","type":"quantitative","format":".2f"}}},
  {"data":{"name":"cS"},"mark":{"type":"text","align":"right","fontSize":13},"encoding":{"x":{"datum":332,"type":"quantitative","scale":{"domain":[0,760],"nice":false,"zero":false},"axis":null},"y":{"field":"row","type":"quantitative","scale":{"domain":[-3.482,11.61],"reverse":true,"nice":false,"zero":false},"axis":null},"text":{"field":"csd","type":"quantitative","format":".2f"}}},
  {"data":{"name":"cS"},"mark":{"type":"text","align":"right","fontSize":13},"encoding":{"x":{"datum":365,"type":"quantitative","scale":{"domain":[0,760],"nice":false,"zero":false},"axis":null},"y":{"field":"row","type":"quantitative","scale":{"domain":[-3.482,11.61],"reverse":true,"nice":false,"zero":false},"axis":null},"text":{"field":"cn","type":"quantitative","format":"d"}}},
  {"data":{"name":"cS"},"mark":{"type":"text","align":"right","fontSize":13},"encoding":{"x":{"datum":418,"type":"quantitative","scale":{"domain":[0,760],"nice":false,"zero":false},"axis":null},"y":{"field":"row","type":"quantitative","scale":{"domain":[-3.482,11.61],"reverse":true,"nice":false,"zero":false},"axis":null},"text":{"field":"w","type":"quantitative","format":".1%"}}},
  {"data":{"name":"cS"},"mark":{"type":"text","align":"left","fontSize":13},"encoding":{"x":{"datum":443,"type":"quantitative","scale":{"domain":[0,760],"nice":false,"zero":false},"axis":null},"y":{"field":"row","type":"quantitative","scale":{"domain":[-3.482,11.61],"reverse":true,"nice":false,"zero":false},"axis":null},"text":{"field":"ci","type":"nominal"}}},
  {"data":{"name":"cT"},"mark":{"type":"text","align":"left","fontWeight":"bold","fontSize":13},"encoding":{"x":{"datum":11,"type":"quantitative","scale":{"domain":[0,760],"nice":false,"zero":false},"axis":null},"y":{"field":"row","type":"quantitative","scale":{"domain":[-3.482,11.61],"reverse":true,"nice":false,"zero":false},"axis":null},"text":{"field":"label","type":"nominal"}}},
  {"data":{"name":"cT"},"mark":{"type":"text","align":"right","fontWeight":"bold","fontSize":13},"encoding":{"x":{"datum":253,"type":"quantitative","scale":{"domain":[0,760],"nice":false,"zero":false},"axis":null},"y":{"field":"row","type":"quantitative","scale":{"domain":[-3.482,11.61],"reverse":true,"nice":false,"zero":false},"axis":null},"text":{"field":"tn","type":"quantitative","format":"d"}}},
  {"data":{"name":"cT"},"mark":{"type":"text","align":"right","fontWeight":"bold","fontSize":13},"encoding":{"x":{"datum":365,"type":"quantitative","scale":{"domain":[0,760],"nice":false,"zero":false},"axis":null},"y":{"field":"row","type":"quantitative","scale":{"domain":[-3.482,11.61],"reverse":true,"nice":false,"zero":false},"axis":null},"text":{"field":"cn","type":"quantitative","format":"d"}}},
  {"data":{"name":"cT"},"mark":{"type":"text","align":"right","fontWeight":"bold","fontSize":13},"encoding":{"x":{"datum":418,"type":"quantitative","scale":{"domain":[0,760],"nice":false,"zero":false},"axis":null},"y":{"field":"row","type":"quantitative","scale":{"domain":[-3.482,11.61],"reverse":true,"nice":false,"zero":false},"axis":null},"text":{"field":"w","type":"quantitative","format":".1%"}}},
  {"data":{"name":"cT"},"mark":{"type":"text","align":"left","fontWeight":"bold","fontSize":13},"encoding":{"x":{"datum":443,"type":"quantitative","scale":{"domain":[0,760],"nice":false,"zero":false},"axis":null},"y":{"field":"row","type":"quantitative","scale":{"domain":[-3.482,11.61],"reverse":true,"nice":false,"zero":false},"axis":null},"text":{"field":"ci","type":"nominal"}}},
  {"data":{"name":"one"},"mark":{"type":"text","align":"center","font":"Liberation Serif","fontSize":18,"fontWeight":"bold"},"encoding":{"x":{"datum":382,"type":"quantitative","scale":{"domain":[0,760],"nice":false,"zero":false},"axis":null},"y":{"datum":15.91,"type":"quantitative","scale":{"domain":[-3.482,11.61],"reverse":true,"nice":false,"zero":false},"axis":null},"text":{"value":"(C)"}}},
  {"data":{"name":"one"},"mark":{"type":"rule","color":"#555","strokeWidth":1},"encoding":{"x":{"datum":0,"type":"quantitative","scale":{"domain":[-2,2],"range":[579,729],"nice":false,"zero":false},"axis":null},"y":{"datum":-1,"type":"quantitative","scale":{"domain":[-3.482,11.61],"reverse":true,"nice":false,"zero":false},"axis":null},"y2":{"datum":11.61}}},
  {"data":{"name":"cT"},"transform":[{"filter":"datum.kind == 'overall'"}],"mark":{"type":"rule","color":"#888","strokeWidth":1,"strokeDash":[1,2]},"encoding":{"x":{"field":"est","type":"quantitative","scale":{"domain":[-2,2],"range":[579,729],"nice":false,"zero":false},"axis":null},"y":{"datum":-1,"type":"quantitative","scale":{"domain":[-3.482,11.61],"reverse":true,"nice":false,"zero":false},"axis":null},"y2":{"datum":11.61}}},
  {"data":{"name":"cS"},"mark":{"type":"point","shape":"square","filled":true,"color":"#22e022","opacity":1},"encoding":{"x":{"field":"est","type":"quantitative","scale":{"domain":[-2,2],"range":[579,729],"nice":false,"zero":false},"axis":null},"y":{"field":"row","type":"quantitative","scale":{"domain":[-3.482,11.61],"reverse":true,"nice":false,"zero":false},"axis":null},"size":{"field":"w","type":"quantitative","scale":{"domain":[0,0.195],"range":[0,160],"zero":true},"legend":null}}},
  {"data":{"name":"cS"},"mark":{"type":"rule","color":"black","strokeWidth":1},"encoding":{"x":{"field":"lo","type":"quantitative","scale":{"domain":[-2,2],"range":[579,729],"nice":false,"zero":false},"axis":{"orient":"bottom","values":[-2,-1,0,1,2],"title":null,"grid":false,"domainColor":"black","domainWidth":1,"tickColor":"black","tickWidth":1,"tickSize":9,"labelFont":"Liberation Sans","labelFontSize":13,"labelColor":"black","labelPadding":9,"labelFlush":false,"labelOverlap":false,"labelBound":false}},"x2":{"field":"hi"},"y":{"field":"row","type":"quantitative","scale":{"domain":[-3.482,11.61],"reverse":true,"nice":false,"zero":false},"axis":null}}},
  {"data":{"name":"cS"},"mark":{"type":"point","shape":"M0,-1L0,1","filled":false,"color":"black","strokeWidth":1,"opacity":1,"size":36},"encoding":{"x":{"field":"est","type":"quantitative","scale":{"domain":[-2,2],"range":[579,729],"nice":false,"zero":false},"axis":null},"y":{"field":"row","type":"quantitative","scale":{"domain":[-3.482,11.61],"reverse":true,"nice":false,"zero":false},"axis":null}}},
  {"data":{"name":"cT"},"mark":{"type":"point","filled":true,"color":"black","opacity":1,"size":4},"encoding":{"x":{"field":"est","type":"quantitative","scale":{"domain":[-2,2],"range":[579,729],"nice":false,"zero":false},"axis":null},"y":{"field":"row","type":"quantitative","scale":{"domain":[-3.482,11.61],"reverse":true,"nice":false,"zero":false},"axis":null},"shape":{"field":"kind","type":"nominal","scale":{"domain":["subtotal","overall"],"range":["M-10.88,0L0,-5L10.88,0L0,5Z","M-10.88,0L0,-5L10.88,0L0,5Z"]},"legend":null}}},
  {"data":{"name":"one"},"mark":{"type":"text","align":"center","fontWeight":"bold","fontSize":12.5,"lineHeight":15.65},"encoding":{"x":{"datum":0,"type":"quantitative","scale":{"domain":[-2,2],"range":[579,729],"nice":false,"zero":false},"axis":null},"y":{"datum":-3,"type":"quantitative","scale":{"domain":[-3.482,11.61],"reverse":true,"nice":false,"zero":false},"axis":null},"text":{"value":["Std. Mean Difference","IV, Random, 95% CI"]}}},
  {"data":{"name":"one"},"mark":{"type":"text","align":"right","dx":-3,"fontSize":13},"encoding":{"x":{"datum":0,"type":"quantitative","scale":{"domain":[-2,2],"range":[579,729],"nice":false,"zero":false},"axis":null},"y":{"datum":14.19,"type":"quantitative","scale":{"domain":[-3.482,11.61],"reverse":true,"nice":false,"zero":false},"axis":null},"text":{"value":"Favors Thalassemia"}}},
  {"data":{"name":"one"},"mark":{"type":"text","align":"left","dx":4,"fontSize":13},"encoding":{"x":{"datum":0,"type":"quantitative","scale":{"domain":[-2,2],"range":[579,729],"nice":false,"zero":false},"axis":null},"y":{"datum":14.19,"type":"quantitative","scale":{"domain":[-3.482,11.61],"reverse":true,"nice":false,"zero":false},"axis":null},"text":{"value":"Favors Control"}}}
 ]
}
]
}
